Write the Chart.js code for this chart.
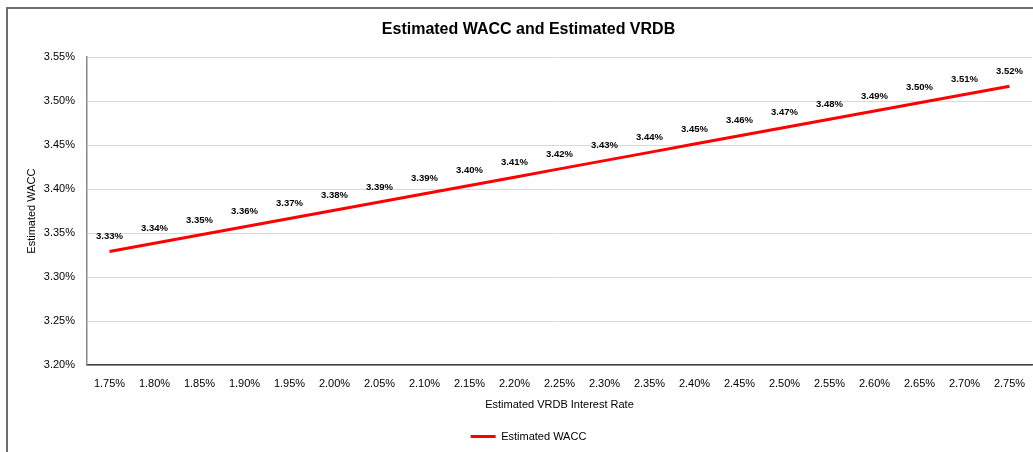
<!DOCTYPE html>
<html>
<head>
<meta charset="utf-8">
<script src="https://cdn.jsdelivr.net/npm/chart.js@4/dist/chart.umd.min.js"></script>
<style>
  html, body { margin: 0; padding: 0; background: #fff; overflow: hidden; }
  #wrap { position: relative; width: 1033px; height: 452px; }
  #frame { position: absolute; left: 6px; top: 7px; width: 1100px; height: 600px;
           border-left: 2px solid #6e6e6e; border-top: 2px solid #6e6e6e; pointer-events: none; }
  canvas { position: absolute; left: 0; top: 0; }
</style>
</head>
<body>
<div id="wrap">
  <canvas id="c" width="1033" height="452"></canvas>
  <div id="frame"></div>
</div>
<script>
const categories = ['1.75%','1.80%','1.85%','1.90%','1.95%','2.00%','2.05%','2.10%','2.15%','2.20%','2.25%','2.30%','2.35%','2.40%','2.45%','2.50%','2.55%','2.60%','2.65%','2.70%','2.75%'];
const waccValues = [3.329, 3.3384, 3.3478, 3.3572, 3.3666, 3.376, 3.3854, 3.3948, 3.4042, 3.4136, 3.423, 3.4324, 3.4418, 3.4512, 3.4606, 3.470, 3.4794, 3.4888, 3.4982, 3.5076, 3.517];
const yTicks = [3.20, 3.25, 3.30, 3.35, 3.40, 3.45, 3.50, 3.55];
const seriesName = 'Estimated WACC';
const chartTitle = 'Estimated WACC and Estimated VRDB';
const xTitle = 'Estimated VRDB Interest Rate';
const yTitle = 'Estimated WACC';

const FONT = "'Liberation Sans', Arial, sans-serif";

const dataLabels = {
  id: 'dataLabels',
  afterDatasetsDraw(chart) {
    const ctx = chart.ctx;
    const meta = chart.getDatasetMeta(0);
    ctx.save();
    ctx.font = "bold 9.5px " + FONT;
    ctx.fillStyle = '#000';
    ctx.textAlign = 'center';
    ctx.textBaseline = 'middle';
    meta.data.forEach((p, i) => {
      ctx.fillText(waccValues[i].toFixed(2) + '%', p.x, p.y - 15);
    });
    ctx.restore();
  }
};

new Chart(document.getElementById('c'), {
  type: 'line',
  data: {
    labels: categories,
    datasets: [{
      label: seriesName,
      data: waccValues,
      borderColor: '#ff0000',
      backgroundColor: '#ff0000',
      borderWidth: 3,
      pointRadius: 0,
      pointHoverRadius: 0,
      tension: 0,
      fill: false
    }]
  },
  options: {
    responsive: false,
    animation: false,
    devicePixelRatio: 1,
    layout: { padding: { left: 25, right: 1, top: 0, bottom: 0 } },
    plugins: {
      title: {
        display: true,
        text: chartTitle,
        color: '#000',
        font: { family: FONT, size: 16, weight: 'bold' },
        padding: { top: 20, bottom: 18 }
      },
      legend: {
        display: true,
        position: 'bottom',
        labels: {
          color: '#000',
          font: { family: FONT, size: 11 },
          usePointStyle: true,
          pointStyle: 'line',
          pointStyleWidth: 25,
          padding: 10
        }
      },
      tooltip: { enabled: false }
    },
    scales: {
      x: {
        offset: true,
        grid: { display: false, drawTicks: false },
        border: { display: true, color: '#404040', width: 1.5 },
        ticks: { color: '#000', font: { family: FONT, size: 11 }, padding: 12, maxRotation: 0, autoSkip: false },
        title: { display: true, text: xTitle, color: '#000', font: { family: FONT, size: 11 }, padding: { top: 0, bottom: 9 } },
        afterFit(scale) { scale.height = 56; scale.paddingLeft = 0; scale.paddingRight = 0; }
      },
      y: {
        min: 3.20,
        max: 3.55,
        afterBuildTicks(scale) { scale.ticks = yTicks.map(v => ({ value: v })); },
        grid: { color: '#d9d9d9', lineWidth: 1, drawTicks: false },
        border: { display: true, color: '#878787', width: 1.5 },
        ticks: {
          color: '#000',
          font: { family: FONT, size: 11 },
          padding: 12,
          callback: (v) => Number(v).toFixed(2) + '%'
        },
        title: { display: true, text: yTitle, color: '#000', font: { family: FONT, size: 11 }, padding: { top: 0, bottom: 6 } },
        afterFit(scale) { scale.width = 62; }
      }
    }
  },
  plugins: [dataLabels]
});
</script>
</body>
</html>
